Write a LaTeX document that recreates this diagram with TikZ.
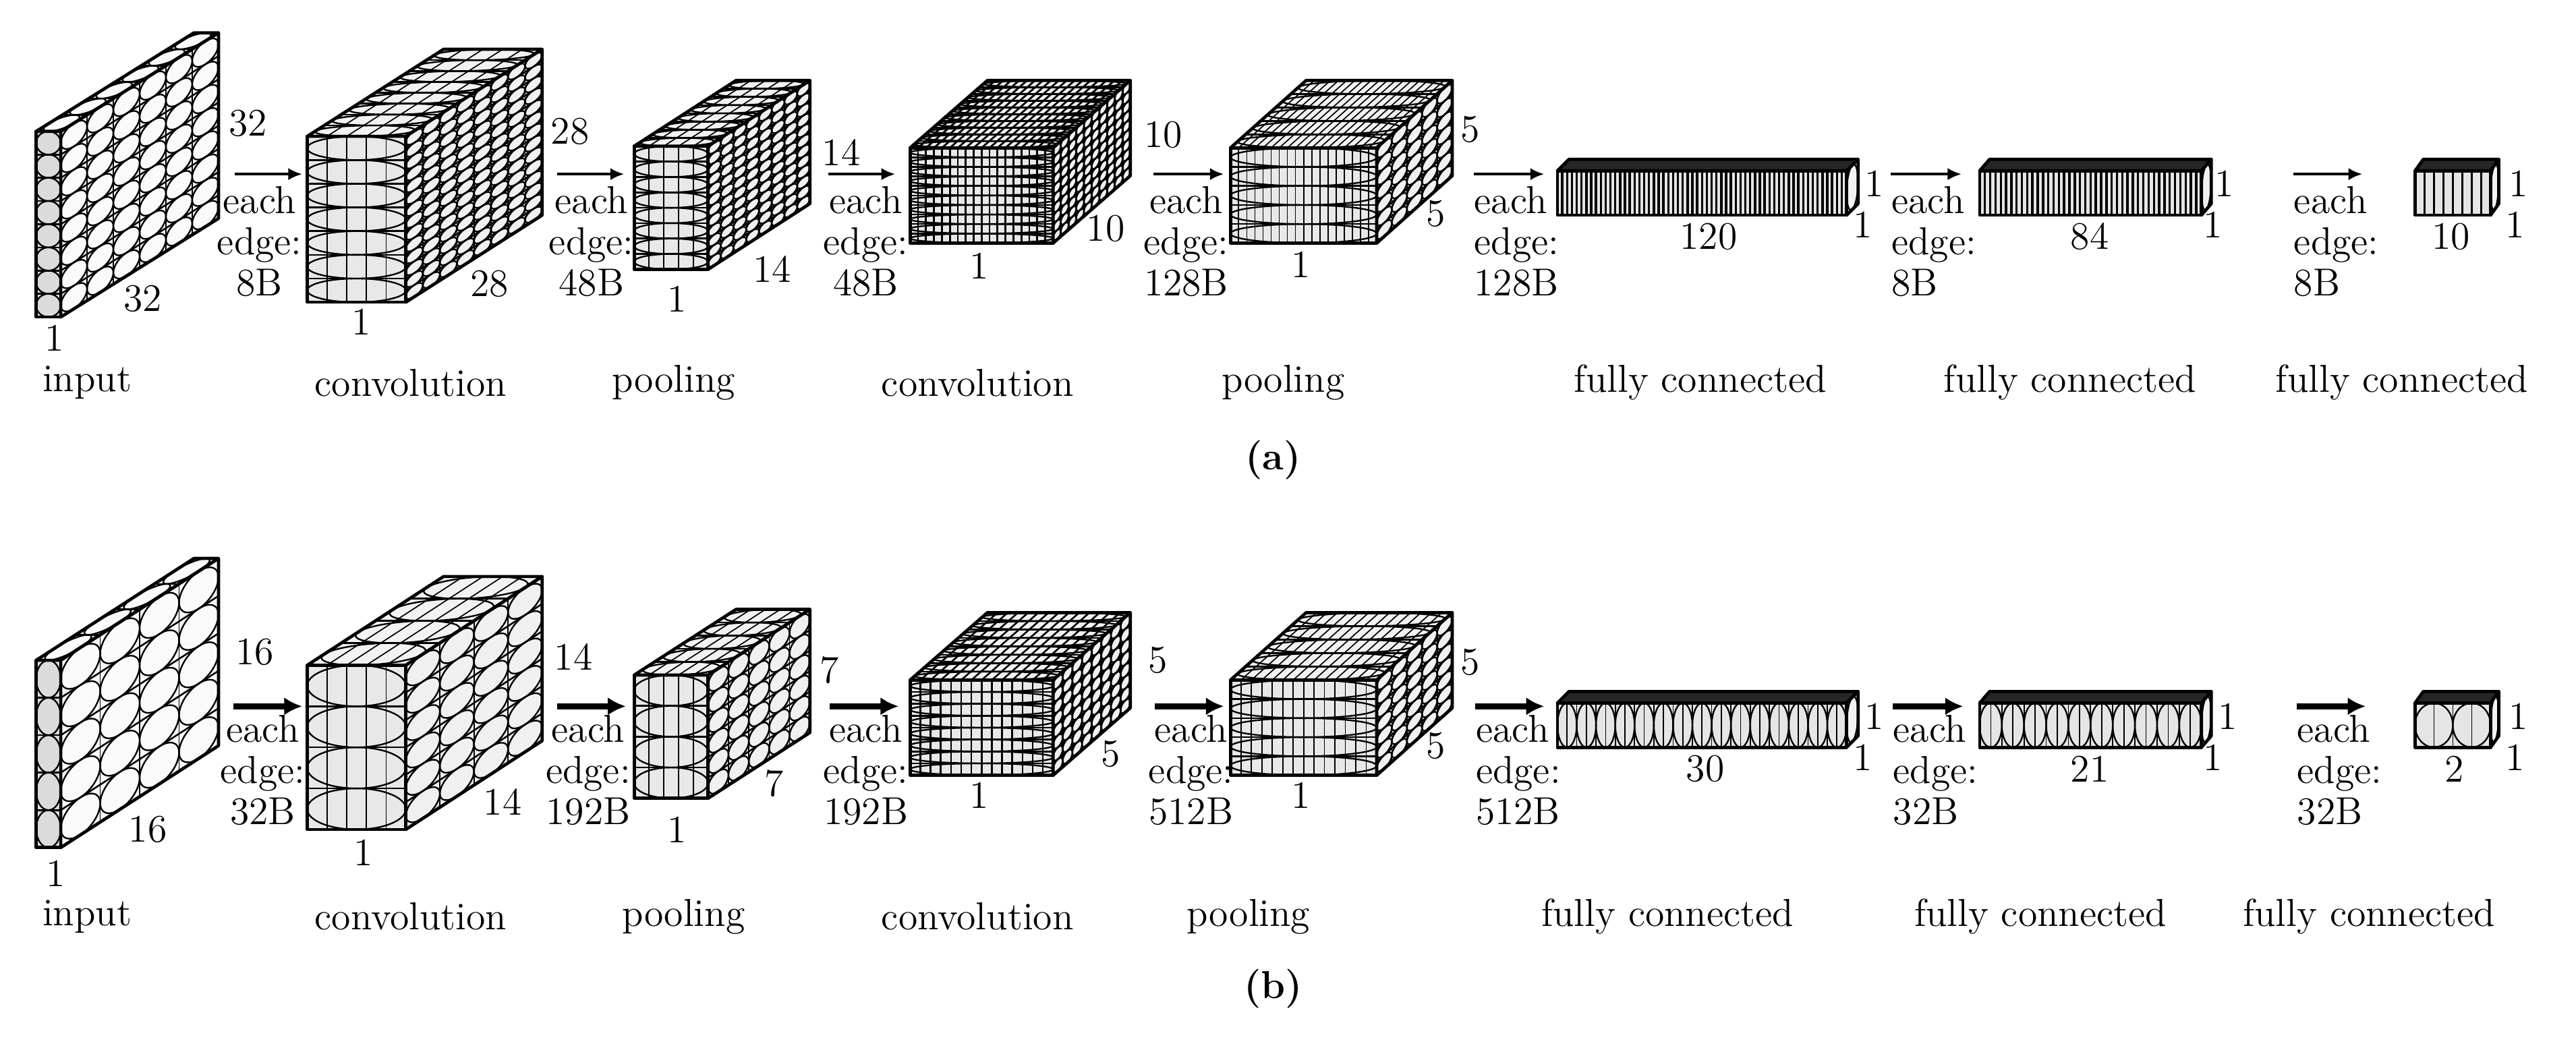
\documentclass[tikz,border=0pt]{standalone}
\usetikzlibrary{arrows.meta}
\newcommand\ellon{1}
\newcommand\stw{0.4pt}
\newcommand\Rr{1}\newcommand\Sr{1}\newcommand\Dd{1}\newcommand\St{1}
\newcommand\ffill{gray!18}\newcommand\tfill{gray!6}\newcommand\sfill{gray!8}
\newcommand\face[9]{%
\begin{scope}[shift={(#1)},x={({(#2)*0.02cm},{-(#3)*0.02cm})},y={({(#4)*0.02cm},{-(#5)*0.02cm})}]
\fill[#9] (0,0)--(1,0)--(1,1)--(0,1)--cycle;
\ifnum\ellon=1
\foreach \i in {1,...,#6}{\foreach \j in {1,...,#7}{\draw[line width=0.55pt] ({(\i-0.5)/#6},{(\j-0.5)/#7}) ellipse ({0.5/#6} and {0.5/#7});}}
\fi
\pgfmathtruncatemacro\nn{#6*#8}
\ifnum\nn>1 \foreach \i in {2,...,\nn}{\draw[line width=\stw] ({(\i-1)/\nn},0)--({(\i-1)/\nn},1);}\fi
\ifnum#7>1 \foreach \j in {2,...,#7}{\draw[line width=0.6pt] (0,{(\j-1)/#7})--(1,{(\j-1)/#7});}\fi
\draw[line width=1.1pt,line join=round] (0,0)--(1,0)--(1,1)--(0,1)--cycle;
\end{scope}}
\newcommand\blk[6]{%
\face{#1,#2+#4}{#3}{0}{0}{-#4}{1}{\Rr}{\St}{\ffill}%
\face{#1,#2}{#3}{0}{#5}{-#6}{1}{\Dd}{\St}{\tfill}%
\face{#1+#3,#2+#4}{#5}{-#6}{0}{-#4}{\Dd}{\Sr}{1}{\sfill}}
\newcommand\fc[7]{%
\face{#1,#2+#4}{#3}{0}{0}{-#4}{#7}{1}{\St}{gray!20}%
\begin{scope}\renewcommand\ellon{0}\face{#1,#2}{#3}{0}{#5}{-#6}{1}{1}{1}{black!85}\end{scope}%
\begin{scope}\renewcommand\ellon{1}\face{#1+#3,#2+#4}{#5}{-#6}{0}{-#4}{1}{1}{1}{gray!10}\end{scope}}
\tikzset{lab/.style={inner sep=0pt,font=\fontsize{13.5}{14}\selectfont},
 arA/.style={line width=1pt,-{Latex[length=0.17cm,width=0.15cm]}},
 arB/.style={line width=2pt,-{Latex[length=0.22cm,width=0.22cm]}}}
\newcommand\lab[4]{\node[lab] (#1) at (#2,#3) {#4};}
\newcommand\ee[5]{%
\node[lab,anchor=base #5] (#1e) at (#2,#3+6) {each};
\node[lab,anchor=base #5] (#1d) at (#2,#3+31) {edge:};
\node[lab,anchor=base #5] (#1b) at (#2,#3+56) {#4};}
\newcommand\arr[5]{\coordinate (#1s) at (#2,#4);\coordinate (#1t) at (#3,#4);\draw[#5] (#1s) -- (#1t);}
\begin{document}
\begin{tikzpicture}[x=0.02cm,y=-0.02cm]
\fill[white] (0,0) rectangle (1568,638);
\useasboundingbox (0,0) rectangle (1568,638);
% ---------------- panel a
\renewcommand\ffill{gray!28}\renewcommand\tfill{gray!4}\renewcommand\sfill{gray!4}
\renewcommand\Rr{8}\renewcommand\Sr{8}\renewcommand\Dd{6}\renewcommand\St{1}
\blk{22}{80}{15}{113}{96}{60}
\renewcommand\ffill{gray!18}\renewcommand\tfill{gray!10}\renewcommand\sfill{gray!12}
\renewcommand\Rr{7}\renewcommand\Sr{14}\renewcommand\Dd{8}\renewcommand\St{5}
\blk{187}{83}{60}{101}{83}{53}
\renewcommand\Rr{8}\renewcommand\Sr{12}\renewcommand\Dd{8}\renewcommand\St{5}
\blk{386}{89}{45}{75}{62}{40}
\renewcommand\stw{0.65pt}
\renewcommand\Rr{10}\renewcommand\Sr{10}\renewcommand\Dd{10}\renewcommand\St{18}
\blk{554}{90}{87}{58}{47}{41}
\renewcommand\stw{0.4pt}
\renewcommand\Rr{5}\renewcommand\Sr{7}\renewcommand\Dd{5}\renewcommand\St{18}
\blk{749}{90}{89}{58}{46}{41}
\renewcommand\ellon{0}\renewcommand\stw{0.8pt}
\renewcommand\St{60}\fc{948}{104}{176}{27}{7}{7}{1}
\renewcommand\St{42}\fc{1205}{104}{135}{27}{6}{7}{1}
\renewcommand\St{8}\fc{1470}{104}{46}{27}{5}{7}{1}
\renewcommand\ellon{1}\renewcommand\stw{0.4pt}
\arr{a1}{143}{184}{106}{arA}\arr{a2}{339}{380}{106}{arA}\arr{a3}{504}{545}{106}{arA}
\arr{a4}{702}{745}{106}{arA}\arr{a5}{897}{940}{106}{arA}\arr{a6}{1151}{1194}{106}{arA}
\arr{a7}{1396}{1438}{106}{arA}
\ee{ea1}{158}{124}{8B}{}\ee{ea2}{360}{124}{48B}{}\ee{ea3}{527}{124}{48B}{}
\ee{ea4}{722}{124}{128B}{}\ee{ea5}{897}{124}{128B}{west}\ee{ea6}{1151}{124}{8B}{west}
\ee{ea7}{1396}{124}{8B}{west}
\lab{la1}{151}{75}{32}\lab{la2}{87}{182}{32}\lab{la3}{33}{206}{1}
\lab{la4}{347}{80}{28}\lab{la5}{298}{173}{28}\lab{la6}{220}{196}{1}
\lab{la7}{512}{93}{14}\lab{la8}{470}{164}{14}\lab{la9}{412}{182}{1}
\lab{la10}{708}{82}{10}\lab{la11}{673}{139}{10}\lab{la12}{596}{162}{1}
\lab{la13}{895}{79}{5}\lab{la14}{874}{130}{5}\lab{la15}{792}{161}{1}
\lab{la16}{1141}{112}{1}\lab{la17}{1134}{137}{1}\lab{la18}{1040}{144}{120}
\lab{la19}{1354}{112}{1}\lab{la20}{1347}{137}{1}\lab{la21}{1272}{144}{84}
\lab{la22}{1533}{112}{1}\lab{la23}{1531}{137}{1}\lab{la24}{1492}{144}{10}
\lab{na1}{53}{233}{input}\lab{na2}{250}{233}{convolution}\lab{na3}{410}{233}{pooling}
\lab{na4}{595}{233}{convolution}\lab{na5}{781}{233}{pooling}\lab{na6}{1035}{233}{fully connected}
\lab{na7}{1260}{233}{fully connected}\lab{na8}{1462}{233}{fully connected}
\lab{capa}{775}{280}{\bfseries (a)}
% ---------------- panel b
\renewcommand\ffill{gray!28}\renewcommand\tfill{gray!4}\renewcommand\sfill{gray!4}
\renewcommand\Rr{5}\renewcommand\Sr{5}\renewcommand\Dd{4}\renewcommand\St{1}
\blk{22}{402}{15}{114}{96}{62}
\renewcommand\ffill{gray!18}\renewcommand\tfill{gray!10}\renewcommand\sfill{gray!12}
\renewcommand\Rr{4}\renewcommand\Sr{6}\renewcommand\Dd{4}\renewcommand\St{5}
\blk{187}{405}{60}{100}{83}{54}
\renewcommand\Rr{4}\renewcommand\Sr{6}\renewcommand\Dd{5}\renewcommand\St{5}
\blk{386}{411}{45}{75}{62}{40}
\renewcommand\stw{0.6pt}
\renewcommand\Rr{8}\renewcommand\Sr{8}\renewcommand\Dd{8}\renewcommand\St{14}
\blk{554}{414}{87}{58}{47}{41}
\renewcommand\stw{0.4pt}
\renewcommand\Rr{5}\renewcommand\Sr{7}\renewcommand\Dd{5}\renewcommand\St{14}
\blk{749}{414}{89}{58}{46}{41}
\renewcommand\St{2}\fc{948}{428}{176}{27}{7}{7}{15}
\renewcommand\St{2}\fc{1205}{428}{135}{27}{6}{7}{10}
\renewcommand\St{2}\fc{1470}{428}{46}{27}{5}{7}{2}
\arr{b1}{142}{184}{430}{arB}\arr{b2}{339}{381}{430}{arB}\arr{b3}{505}{547}{430}{arB}
\arr{b4}{703}{745}{430}{arB}\arr{b5}{898}{940}{430}{arB}\arr{b6}{1152}{1195}{430}{arB}
\arr{b7}{1398}{1440}{430}{arB}
\ee{eb1}{160}{446}{32B}{}\ee{eb2}{358}{446}{192B}{}\ee{eb3}{527}{446}{192B}{}
\ee{eb4}{725}{446}{512B}{}\ee{eb5}{898}{446}{512B}{west}\ee{eb6}{1152}{446}{32B}{west}
\ee{eb7}{1398}{446}{32B}{west}
\lab{lb1}{155}{397}{16}\lab{lb2}{90}{505}{16}\lab{lb3}{34}{532}{1}
\lab{lb4}{349}{400}{14}\lab{lb5}{306}{488}{14}\lab{lb6}{221}{519}{1}
\lab{lb7}{505}{408}{7}\lab{lb8}{471}{477}{7}\lab{lb9}{412}{505}{1}
\lab{lb10}{705}{402}{5}\lab{lb11}{676}{459}{5}\lab{lb12}{596}{484}{1}
\lab{lb13}{895}{403}{5}\lab{lb14}{874}{454}{5}\lab{lb15}{792}{484}{1}
\lab{lb16}{1141}{436}{1}\lab{lb17}{1134}{461}{1}\lab{lb18}{1038}{468}{30}
\lab{lb19}{1356}{436}{1}\lab{lb20}{1347}{461}{1}\lab{lb21}{1272}{468}{21}
\lab{lb22}{1533}{436}{1}\lab{lb23}{1531}{461}{1}\lab{lb24}{1494}{468}{2}
\lab{nb1}{53}{558}{input}\lab{nb2}{250}{558}{convolution}\lab{nb3}{416}{558}{pooling}
\lab{nb4}{595}{558}{convolution}\lab{nb5}{760}{558}{pooling}\lab{nb6}{1015}{558}{fully connected}
\lab{nb7}{1242}{558}{fully connected}\lab{nb8}{1442}{558}{fully connected}
\lab{capb}{775}{602}{\bfseries (b)}
\end{tikzpicture}
\end{document}
